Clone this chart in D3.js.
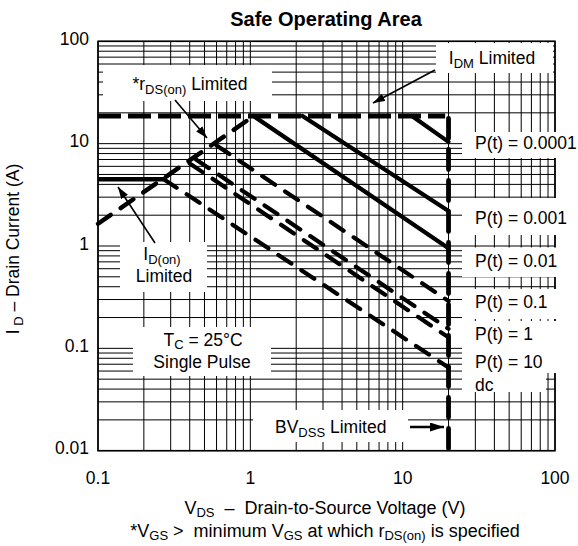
<html>
<head>
    <title>Safe Operating Area</title>
    <script src="https://d3js.org/d3.v7.min.js"></script>
    <style>
        body { margin: 0; background: #fff; }
        svg { font-family: "Liberation Sans", Arial, sans-serif; }
        .grid line { stroke: #000; stroke-width: 1; }
        .txt { fill: #000; font-size: 17.5px; }
        .title { font-size: 20px; font-weight: bold; }
        .big { font-size: 18px; }
    </style>
</head>
<body>
<div id="chart"></div>
<script>
    /* values */
    var xTicks = [0.1, 1, 10, 100];
    var xTickLabels = ["0.1", "1", "10", "100"];
    var yTicks = [0.01, 0.1, 1, 10, 100];
    var yTickLabels = ["0.01", "0.1", "1", "10", "100"];

    // limit lines as [V_DS, I_D]
    var idmLimit = [[0.1, 18.6], [19, 18.6]];
    var rdsLimit = [[0.1, 1.65], [1.05, 18.6]];
    var idonLimit = [[0.1, 4.5], [0.27, 4.5]];
    var bvdssLimit = [[20, 17.6], [20, 0.0102]];

    // single pulse lines
    var pulseNames = ["P(t) = 0.0001", "P(t) = 0.001", "P(t) = 0.01", "P(t) = 0.1", "P(t) = 1", "P(t) = 10", "dc"];
    var pulseSolid = [true, true, true, false, false, false, false];
    var pulseStart = [[11.5, 18.6], [2.2, 18.6], [1.05, 18.6], [0.6, 9.6], [0.44, 7.0], [0.40, 6.4], [0.27, 4.5]];
    var pulseEnd = [[20, 10.4], [20, 2.2], [20, 0.95], [20, 0.29], [20, 0.155], [20, 0.128], [20, 0.065]];

    var width = 578;
    var height = 546;

    var x = d3.scaleLog().domain([0.1, 100]).range([98, 555]);
    var y = d3.scaleLog().domain([0.01, 100]).range([450.7, 41.3]);

    var svg = d3.select("#chart").append("svg")
        .attr("width", width)
        .attr("height", height);

    var defs = svg.append("defs");
    defs.append("marker")
        .attr("id", "head")
        .attr("markerUnits", "userSpaceOnUse")
        .attr("markerWidth", 12).attr("markerHeight", 8)
        .attr("refX", 12).attr("refY", 4)
        .attr("orient", "auto")
        .append("path").attr("d", "M0,0 L12,4 L0,8 Z").attr("fill", "#000");
    defs.append("marker")
        .attr("id", "headBig")
        .attr("markerUnits", "userSpaceOnUse")
        .attr("markerWidth", 14).attr("markerHeight", 9)
        .attr("refX", 14).attr("refY", 4.5)
        .attr("orient", "auto")
        .append("path").attr("d", "M0,0 L14,4.5 L0,9 Z").attr("fill", "#000");

    /* grid */
    var grid = svg.append("g").attr("class", "grid");
    grid.selectAll(".vx").data(x.ticks()).enter().append("line")
        .attr("x1", d => x(d)).attr("x2", d => x(d))
        .attr("y1", y.range()[0]).attr("y2", y.range()[1]);
    grid.selectAll(".hy").data(y.ticks()).enter().append("line")
        .attr("x1", x.range()[0]).attr("x2", x.range()[1])
        .attr("y1", d => y(d)).attr("y2", d => y(d));

    svg.append("rect")
        .attr("x", x.range()[0]).attr("y", y.range()[1])
        .attr("width", x.range()[1] - x.range()[0])
        .attr("height", y.range()[0] - y.range()[1])
        .attr("fill", "none").attr("stroke", "#000").attr("stroke-width", 1.6);

    /* white label boxes that hide the grid */
    var boxes = [
        [103, 65, 169, 36], [436, 43, 117, 30], [120, 242, 87, 50],
        [133, 327, 138, 49], [253, 410, 155, 32],
        [462, 132, 116, 26], [462, 198, 94, 37], [462, 247.5, 94, 29.5],
        [462, 289, 94, 30], [462, 321, 94, 52], [462, 372, 84, 20]
    ];
    svg.append("g").selectAll("rect").data(boxes).enter().append("rect")
        .attr("x", d => d[0]).attr("y", d => d[1])
        .attr("width", d => d[2]).attr("height", d => d[3])
        .attr("fill", "#fff");

    /* curves */
    var line = d3.line().x(d => x(d[0])).y(d => y(d[1]));
    var curves = svg.append("g").attr("fill", "none").attr("stroke", "#000");

    curves.append("path").attr("d", line(idmLimit))
        .attr("stroke-width", 5).attr("stroke-dasharray", "23,7");
    curves.append("path").attr("d", line(rdsLimit))
        .attr("stroke-width", 4.5).attr("stroke-linecap", "round").attr("stroke-dasharray", "15.5,12");
    curves.append("path").attr("d", line(idonLimit))
        .attr("stroke-width", 4.5);
    curves.append("path").attr("d", line(bvdssLimit))
        .attr("stroke-width", 4.8).attr("stroke-linecap", "round").attr("stroke-dasharray", "20,11");

    pulseNames.forEach(function(name, i) {
        var p = curves.append("path")
            .attr("d", line([pulseStart[i], pulseEnd[i]]))
            .attr("stroke-width", 4.2)
            .attr("stroke-linecap", "round");
        if (!pulseSolid[i]) p.attr("stroke-dasharray", "15.5,12");
    });

    /* arrows */
    var arrows = svg.append("g").attr("stroke", "#000");
    arrows.append("line").attr("x1", 175).attr("y1", 100).attr("x2", 207).attr("y2", 138)
        .attr("stroke-width", 1.6).attr("marker-end", "url(#head)");
    arrows.append("line").attr("x1", 435).attr("y1", 70).attr("x2", 373).attr("y2", 103)
        .attr("stroke-width", 1.6).attr("marker-end", "url(#head)");
    arrows.append("line").attr("x1", 155).attr("y1", 243).attr("x2", 118).attr("y2", 187)
        .attr("stroke-width", 1.6).attr("marker-end", "url(#head)");
    arrows.append("line").attr("x1", 410).attr("y1", 427).attr("x2", 444).attr("y2", 427)
        .attr("stroke-width", 2.6).attr("marker-end", "url(#headBig)");

    /* text with subscripts */
    function richText(x0, y0, parts, anchor, shiftSize) {
        var t = svg.append("text").attr("class", "txt")
            .attr("x", x0).attr("y", y0)
            .attr("text-anchor", anchor || "start");
        var shift = 0;
        var down = shiftSize || 4;
        parts.forEach(function(p) {
            var s = p[1] ? down : 0;
            t.append("tspan")
                .attr("dy", s - shift)
                .style("font-size", p[1] ? "13px" : null)
                .text(p[0]);
            shift = s;
        });
        return t;
    }

    svg.append("text").attr("class", "txt title")
        .attr("x", 326).attr("y", 26).attr("text-anchor", "middle")
        .text("Safe Operating Area");

    svg.selectAll(".xl").data(xTicks).enter().append("text")
        .attr("class", "txt")
        .attr("x", d => x(d)).attr("y", 484)
        .attr("text-anchor", "middle")
        .text((d, i) => xTickLabels[i]);
    svg.selectAll(".yl").data(yTicks).enter().append("text")
        .attr("class", "txt")
        .attr("x", 89).attr("y", d => y(d) + 3.5)
        .attr("text-anchor", "end")
        .text((d, i) => yTickLabels[i]);

    richText(325, 514, [["V", 0], ["DS", 1], ["\u00a0\u00a0\u2013\u00a0\u00a0Drain-to-Source Voltage (V)", 0]], "middle", 2.5)
        .classed("big", true);
    richText(325, 537, [["*V", 0], ["GS", 1], ["\u00a0>\u00a0 minimum V", 0], ["GS", 1], [" at which r", 0], ["DS(on)", 1], [" is specified", 0]], "middle", 3)
        .classed("big", true);
    richText(0, 0, [["I", 0], ["\u00a0D", 1], ["\u00a0\u2013\u00a0Drain Current (A)", 0]], "middle")
        .attr("transform", "translate(18.5,249) rotate(-90)");

    richText(190, 90, [["*r", 0], ["DS(on)", 1], [" Limited", 0]], "middle");
    richText(492, 64, [["I", 0], ["DM", 1], [" Limited", 0]], "middle");
    richText(162, 260, [["I", 0], ["D(on)", 1]], "middle");
    richText(164, 282, [["Limited", 0]], "middle");
    richText(203, 346, [["T", 0], ["C", 1], [" = 25\u00b0C", 0]], "middle", 3);
    richText(202, 368, [["Single Pulse", 0]], "middle");
    richText(275, 433, [["BV", 0], ["DSS", 1], [" Limited", 0]], "start");

    var pulseLabelY = [148.5, 224, 266.5, 308, 340, 368, 391];
    pulseNames.forEach(function(name, i) {
        richText(475, pulseLabelY[i], [[name, 0]], "start");
    });
</script>
</body>
</html>
